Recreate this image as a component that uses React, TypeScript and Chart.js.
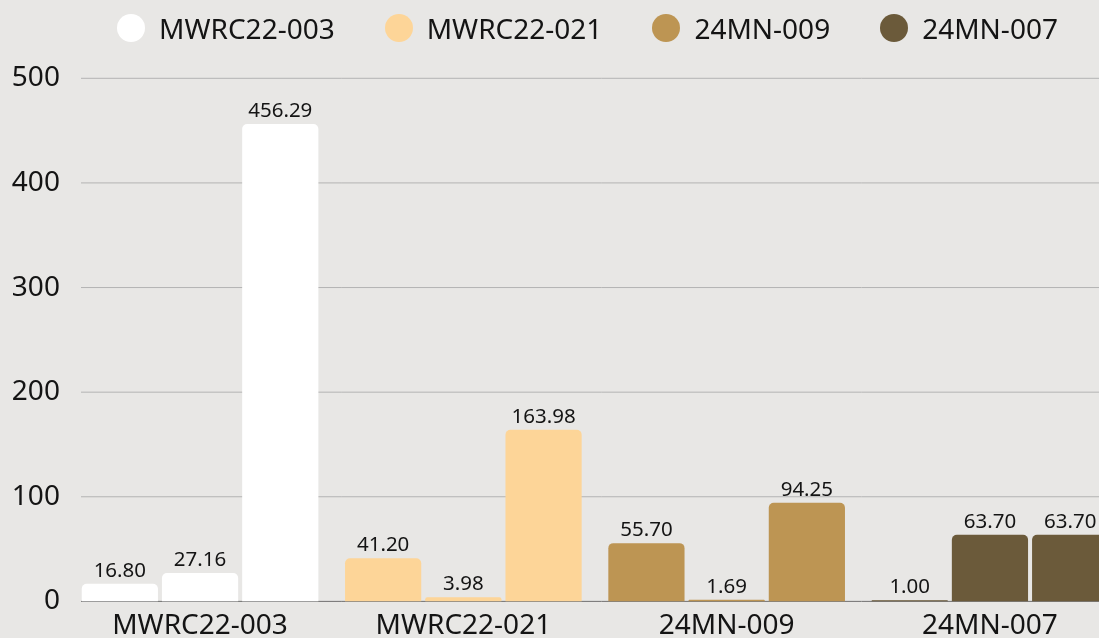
import React, { useEffect, useRef } from "react";
import { Chart, registerables } from "chart.js";

Chart.register(...registerables);

// ---- data ----
const categories = ["MWRC22-003", "MWRC22-021", "24MN-009", "24MN-007"];
const firstBar = [16.8, 41.2, 55.7, 1.0];
const secondBar = [27.16, 3.98, 1.69, 63.7];
const thirdBar = [456.29, 163.98, 94.25, 63.7];
const categoryColors = ["#ffffff", "#fdd598", "#bd9553", "#6b5a3a"];
const yMin = 0;
const yMax = 500;
const yStep = 100;

// ---- style ----
const BG = "#e8e7e5";
const FONT = "'Noto Sans', 'Open Sans', sans-serif";
const TEXT = "#141414";
const CANVAS_W = 1175;
const CANVAS_H = 651;
const GRID_INSET = 12.6;

const gridPlugin = {
  id: "customGrid",
  beforeDatasetsDraw(chart: any) {
    const { ctx, chartArea, scales } = chart;
    const y = scales.y;
    ctx.save();
    y.ticks.forEach((t: any) => {
      const py = y.getPixelForValue(t.value);
      ctx.beginPath();
      ctx.lineWidth = 1;
      ctx.strokeStyle = t.value === 0 ? "#707070" : "#b3b3b3";
      ctx.moveTo(chartArea.left + GRID_INSET, py);
      ctx.lineTo(chartArea.right, py);
      ctx.stroke();
    });
    ctx.restore();
  },
};

const valueLabelPlugin = {
  id: "valueLabels",
  afterDatasetsDraw(chart: any) {
    const { ctx } = chart;
    ctx.save();
    ctx.font = `20.5px ${FONT}`;
    ctx.fillStyle = TEXT;
    ctx.textAlign = "center";
    ctx.textBaseline = "alphabetic";
    chart.data.datasets.forEach((ds: any, i: number) => {
      const meta = chart.getDatasetMeta(i);
      meta.data.forEach((bar: any, j: number) => {
        const v = ds.data[j];
        ctx.fillText(Number(v).toFixed(2), bar.x, bar.y - 7);
      });
    });
    ctx.restore();
  },
};

export default function App() {
  const canvasRef = useRef<HTMLCanvasElement | null>(null);

  useEffect(() => {
    document.body.style.margin = "0";
    document.body.style.overflow = "hidden";
    document.documentElement.style.overflow = "hidden";
    const canvas = canvasRef.current;
    if (!canvas) return;
    const mk = (label: string, data: number[]) => ({
      label,
      data,
      backgroundColor: categoryColors,
      borderWidth: 0,
      borderRadius: 5,
      borderSkipped: "start" as const,
      categoryPercentage: 0.914,
      barPercentage: 0.95,
    });
    const chart = new Chart(canvas, {
      type: "bar",
      data: {
        labels: categories,
        datasets: [mk("1", firstBar), mk("2", secondBar), mk("3", thirdBar)],
      },
      options: {
        responsive: false,
        animation: false,
        layout: { padding: { top: 78.3, right: 53.4, bottom: 0, left: 0 } },
        plugins: {
          legend: { display: false },
          tooltip: { enabled: false },
        },
        scales: {
          x: {
            grid: { display: false, drawTicks: false },
            border: { display: false },
            ticks: { font: { family: FONT, size: 28 }, color: TEXT, padding: 8 },
          },
          y: {
            min: yMin,
            max: yMax,
            grid: { display: false, drawTicks: false },
            border: { display: false },
            ticks: { stepSize: yStep, font: { family: FONT, size: 28 }, color: TEXT, padding: 8.5 },
            afterFit: (scale: any) => {
              scale.width = 68.4;
            },
          },
        },
      },
      plugins: [gridPlugin, valueLabelPlugin],
    });
    return () => chart.destroy();
  }, []);

  return (
    <div style={{ width: 1099, height: 638, overflow: "hidden", background: BG, position: "relative" }}>
      <div style={{ position: "relative", width: CANVAS_W, height: CANVAS_H }}>
        <canvas ref={canvasRef} width={CANVAS_W} height={CANVAS_H} style={{ display: "block" }} />
        <div
          style={{
            position: "absolute",
            top: 8,
            left: 0,
            width: CANVAS_W,
            display: "flex",
            justifyContent: "center",
            alignItems: "center",
            gap: 50,
            fontFamily: FONT,
            fontSize: 28,
            lineHeight: "40px",
            color: TEXT,
          }}
        >
          {categories.map((c, i) => (
            <div key={c} style={{ display: "flex", alignItems: "center" }}>
              <span
                style={{
                  display: "inline-block",
                  width: 28,
                  height: 28,
                  borderRadius: "50%",
                  background: categoryColors[i],
                  marginRight: 14,
                }}
              />
              <span>{c}</span>
            </div>
          ))}
        </div>
      </div>
    </div>
  );
}
